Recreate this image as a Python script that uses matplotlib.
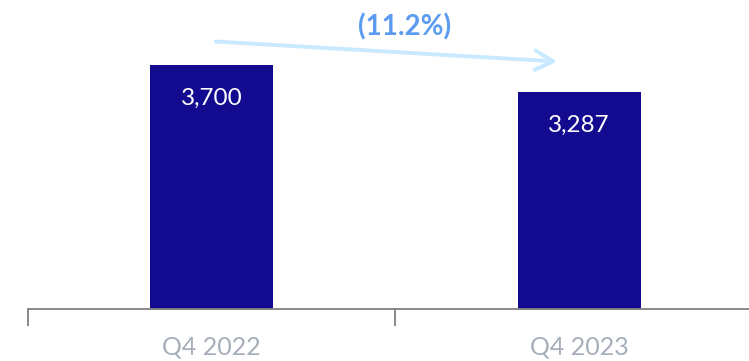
import matplotlib.pyplot as plt

categories = ['Q4 2022', 'Q4 2023']
values = [3700, 3287]
value_labels = ['3,700', '3,287']
change_label = '(11.2%)'

plt.rcParams['font.family'] = ['Lato', 'DejaVu Sans']

fig = plt.figure(figsize=(7.49, 3.61), dpi=100)
ax = fig.add_axes([28 / 749, (361 - 309) / 361, 1 - 28 / 749, 309 / 361])

x = range(len(categories))
bars = ax.bar(x, values, width=0.335, color='#120A8F', zorder=2)

for b, lab in zip(bars, value_labels):
    ax.text(b.get_x() + b.get_width() / 2, b.get_height() - 500, lab,
            ha='center', va='center', color='white', fontsize=17.5)

ax.set_xticks([-0.5, 0.5])
ax.set_xticklabels([])
ax.set_xticks(list(x), minor=True)
ax.set_xticklabels(categories, minor=True)
ax.tick_params(axis='x', which='major', length=12, width=1.3, color='#808080', direction='out')
ax.tick_params(axis='x', which='minor', length=0, pad=19, labelsize=18, labelcolor='#A6AEB9')
ax.set_yticks([])
ax.set_xlim(-0.5, 1.462)
ax.set_ylim(0, 4685)

for s in ['top', 'right', 'left']:
    ax.spines[s].set_visible(False)
ax.spines['bottom'].set_color('#808080')
ax.spines['bottom'].set_linewidth(1.3)

# trend arrow
ax.annotate('', xy=(0.94, 3752), xytext=(0.0115, 4055),
            arrowprops=dict(arrowstyle='->,head_length=1.3,head_width=0.7',
                            color='#C8E9FF', lw=2.8, capstyle='round',
                            shrinkA=0, shrinkB=0))
ax.text(0.525, 4270, change_label, ha='center', va='center',
        color='#5B9BF0', fontsize=20, fontweight='bold')

fig.savefig('out.png', dpi=100)
